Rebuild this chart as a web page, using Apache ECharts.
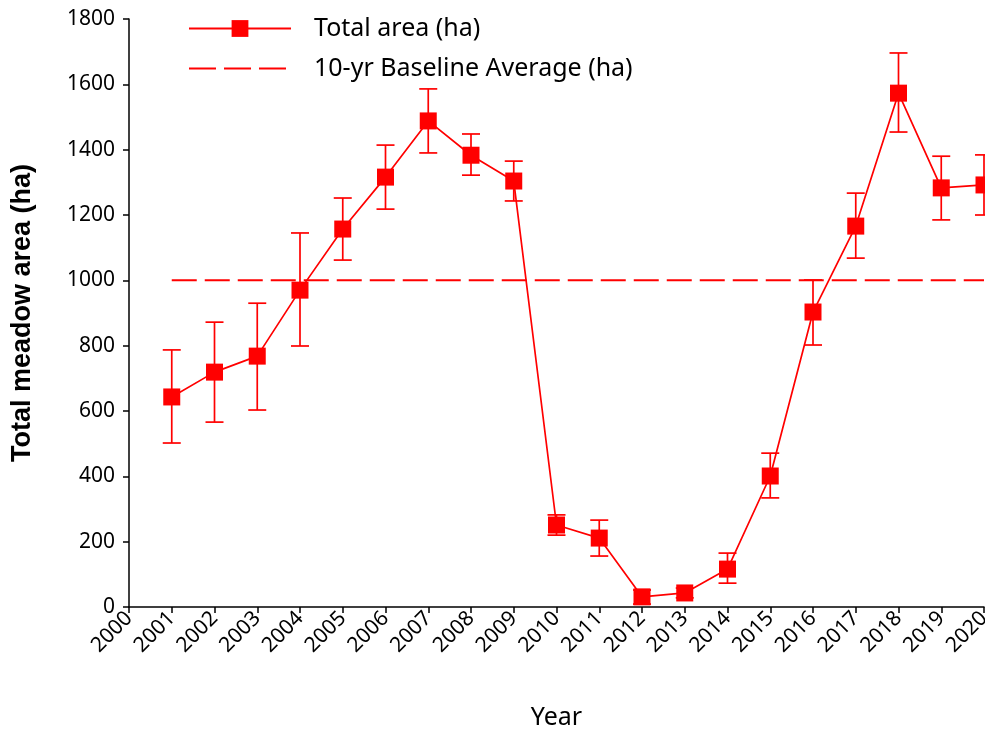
<!DOCTYPE html>
<html>
<head>
<meta charset="utf-8">
<script src="https://cdn.jsdelivr.net/npm/echarts@6/dist/echarts.min.js"></script>
<style>html,body{margin:0;padding:0;background:#fff}#c{width:985px;height:729px}</style>
</head>
<body>
<div id="c"></div>
<script>
const years = [2001,2002,2003,2004,2005,2006,2007,2008,2009,2010,2011,2012,2013,2014,2015,2016,2017,2018,2019,2020];
const totalArea = [643,719,768,970,1157,1316,1488,1383,1304,251,211,31,43,116,401,903,1166,1573,1283,1292];
const errUpper = [787,872,930,1145,1252,1414,1586,1448,1365,282,266,52,58,165,471,1001,1267,1696,1380,1384];
const errLower = [502,566,603,799,1062,1218,1390,1322,1243,220,156,9,28,73,334,802,1068,1454,1185,1200];
const baselineYears = [2001,2020];
const baselineValue = [1000,1000];

const RED = '#ff0000';
const FONT = 'Noto Sans';
const chart = echarts.init(document.getElementById('c'), null, {renderer:'canvas'});
chart.setOption({
  animation:false,
  backgroundColor:'#fff',
  grid:{left:129, right:1, top:19, bottom:122, containLabel:false, outerBoundsMode:'none'},
  legend:{
    orient:'vertical', left:183, top:11, itemWidth:102, itemHeight:21, itemGap:15,
    textStyle:{fontFamily:FONT, fontSize:25, color:'#000', padding:[0,0,0,18]},
    data:[
      {name:'Total area (ha)'},
      {name:'10-yr Baseline Average (ha)', itemStyle:{opacity:0}, lineStyle:{type:[27,8], width:2}}
    ]
  },
  xAxis:{
    type:'value', min:2000, max:2020, interval:1,
    name:'Year', nameLocation:'middle', nameGap:98,
    nameTextStyle:{fontFamily:FONT, fontSize:25, color:'#000'},
    axisLine:{show:true, lineStyle:{color:'#000', width:1.5}},
    axisTick:{show:true, length:6, lineStyle:{color:'#000', width:1.5}},
    axisLabel:{rotate:45, fontFamily:FONT, fontSize:21, color:'#000', margin:8, formatter:v=>String(v)},
    splitLine:{show:false}
  },
  yAxis:{
    type:'value', min:0, max:1800, interval:200,
    name:'Total meadow area (ha)', nameLocation:'middle', nameGap:93, nameRotate:90,
    nameTextStyle:{fontFamily:'Liberation Sans', fontWeight:'bold', fontSize:27, color:'#000'},
    axisLine:{show:true, lineStyle:{color:'#000', width:1.5}},
    axisTick:{show:true, length:6, lineStyle:{color:'#000', width:1.5}},
    axisLabel:{fontFamily:FONT, fontSize:21, color:'#000', margin:14, formatter:v=>String(v)},
    splitLine:{show:false}
  },
  series:[
    {
      name:'10-yr Baseline Average (ha)', type:'line',
      data: baselineYears.map((y,i)=>[y, baselineValue[i]]),
      symbol:'none', lineStyle:{color:RED, width:2, type:[25,8]}, itemStyle:{color:RED}, z:1
    },
    {
      name:'errbars', type:'custom', clip:false, z:2,
      data: years.map((y,i)=>[y, errLower[i], errUpper[i]]),
      renderItem:function(params, api){
        const x = api.value(0);
        const lo = api.coord([x, api.value(1)]);
        const hi = api.coord([x, api.value(2)]);
        const w = 9;
        const st = {stroke:RED, lineWidth:1.7};
        return {type:'group', children:[
          {type:'line', shape:{x1:lo[0], y1:lo[1], x2:hi[0], y2:hi[1]}, style:st},
          {type:'line', shape:{x1:lo[0]-w, y1:lo[1], x2:lo[0]+w, y2:lo[1]}, style:st},
          {type:'line', shape:{x1:hi[0]-w, y1:hi[1], x2:hi[0]+w, y2:hi[1]}, style:st}
        ]};
      }
    },
    {
      name:'Total area (ha)', type:'line',
      data: years.map((y,i)=>[y, totalArea[i]]),
      symbol:'rect', symbolSize:17, showAllSymbol:true,
      lineStyle:{color:RED, width:1.7}, itemStyle:{color:RED}, z:3
    }
  ]
});
</script>
</body>
</html>
